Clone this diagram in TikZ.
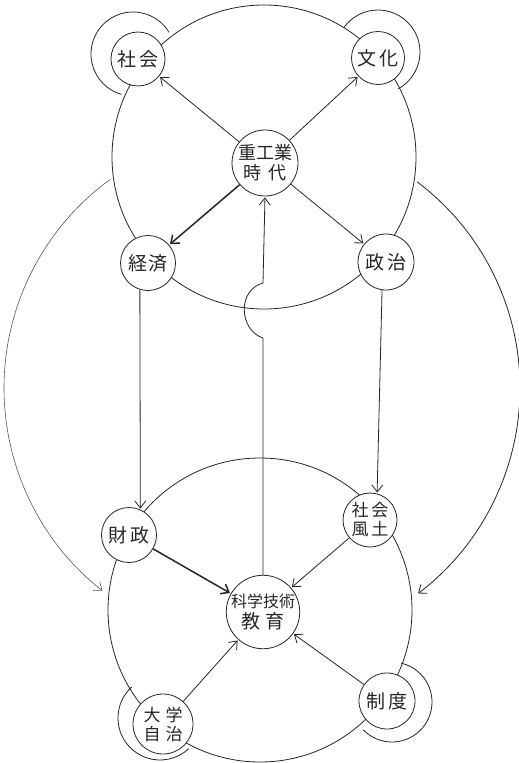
\documentclass[tikz,border=0pt]{standalone}
\usepackage{fontspec}
\newfontfamily\jp{Noto Sans CJK JP}
\usetikzlibrary{arrows.meta}
\begin{document}
\begin{tikzpicture}[x=1pt,y=-1pt,
  ln/.style={draw=black!85, line width=0.8pt},
  nd/.style={circle, draw=black!85, line width=0.8pt, fill=white, inner sep=0pt,
    font=\jp\fontsize{19}{21}\selectfont, align=center, text=black!85},
  two/.style={font=\jp\fontsize{17}{19}\selectfont},
  arr/.style={ln, -{Straight Barb[length=7pt,width=11pt]}, shorten >=1pt},
  thk/.style={line width=1.5pt}]
\fill[white] (0,0) rectangle (519,763);
\useasboundingbox (0,0) rectangle (519,763);
% the two loops
\draw[ln] (264,157) circle[radius=152];
\draw[ln] (260,610) circle[radius=152];
% outer rings
\draw[ln] (133,54) ++(-31:42) arc[start angle=-31, end angle=-254, radius=42];
\draw[ln] (378,52) ++(61:42) arc[start angle=61, end angle=-144, radius=42];
\draw[ln] (392,702) ++(136:40) arc[start angle=136, end angle=-77, radius=40];
\draw[ln] (160,718) ++(-132:42) arc[start angle=-132, end angle=-313, radius=42];
% big side arcs
\draw[arr, draw=black!65, line width=0.6pt] (262,388) ++(-126:258) arc[start angle=-126, end angle=-232, radius=258];
\draw[arr] (262,388) ++(-53:258) arc[start angle=-53, end angle=53, radius=258];
% nodes
\node[nd, minimum size=54pt] (shakai) at (138,59) {社\hspace{4pt}会};
\node[nd, minimum size=53pt] (bunka) at (378,58) {文\hspace{4pt}化};
\node[nd, minimum size=66pt, font=\jp\fontsize{18}{20}\selectfont] (juko) at (265,163) {重工業\\時\hspace{8pt}代};
\node[nd, minimum size=55pt] (keizai) at (148,263) {経\hspace{2pt}済};
\node[nd, minimum size=56pt] (seiji) at (386,262) {政\hspace{4pt}治};
\node[nd, minimum size=55pt] (zaisei) at (129,535) {財\hspace{4pt}政};
\node[nd, minimum size=54pt, two] (fudo) at (370,520) {社\hspace{3pt}会\\風\hspace{3pt}土};
\node[nd, minimum size=71pt] (kagaku) at (263,612) {{\fontsize{16}{20}\selectfont 科学技術}\\教\hspace{6pt}育};
\node[nd, minimum size=60pt, two] (jichi) at (163,724) {大\hspace{5pt}学\\自\hspace{5pt}治};
\node[nd, minimum size=56pt] (seido) at (387,701) {制\hspace{4pt}度};
% arrows
\draw[arr] (juko) -- (shakai);
\draw[arr] (juko) -- (bunka);
\draw[arr, thk] (juko) -- (keizai);
\draw[arr] (juko) -- (seiji);
\draw[arr] (keizai.-107) -- (zaisei.66);
\draw[arr] (seiji.-98) -- (fudo.75);
\draw[arr, thk] (zaisei) -- (kagaku);
\draw[arr] (fudo) -- (kagaku);
\draw[arr] (jichi) -- (kagaku);
\draw[arr] (seido) -- (kagaku);
\coordinate (hopA) at (263,338);
\coordinate (hopB) at (263,283);
\draw[arr] (kagaku.north) -- (hopA) .. controls (239,330) and (237,290) .. (hopB) -- (juko.south);
\end{tikzpicture}
\end{document}
